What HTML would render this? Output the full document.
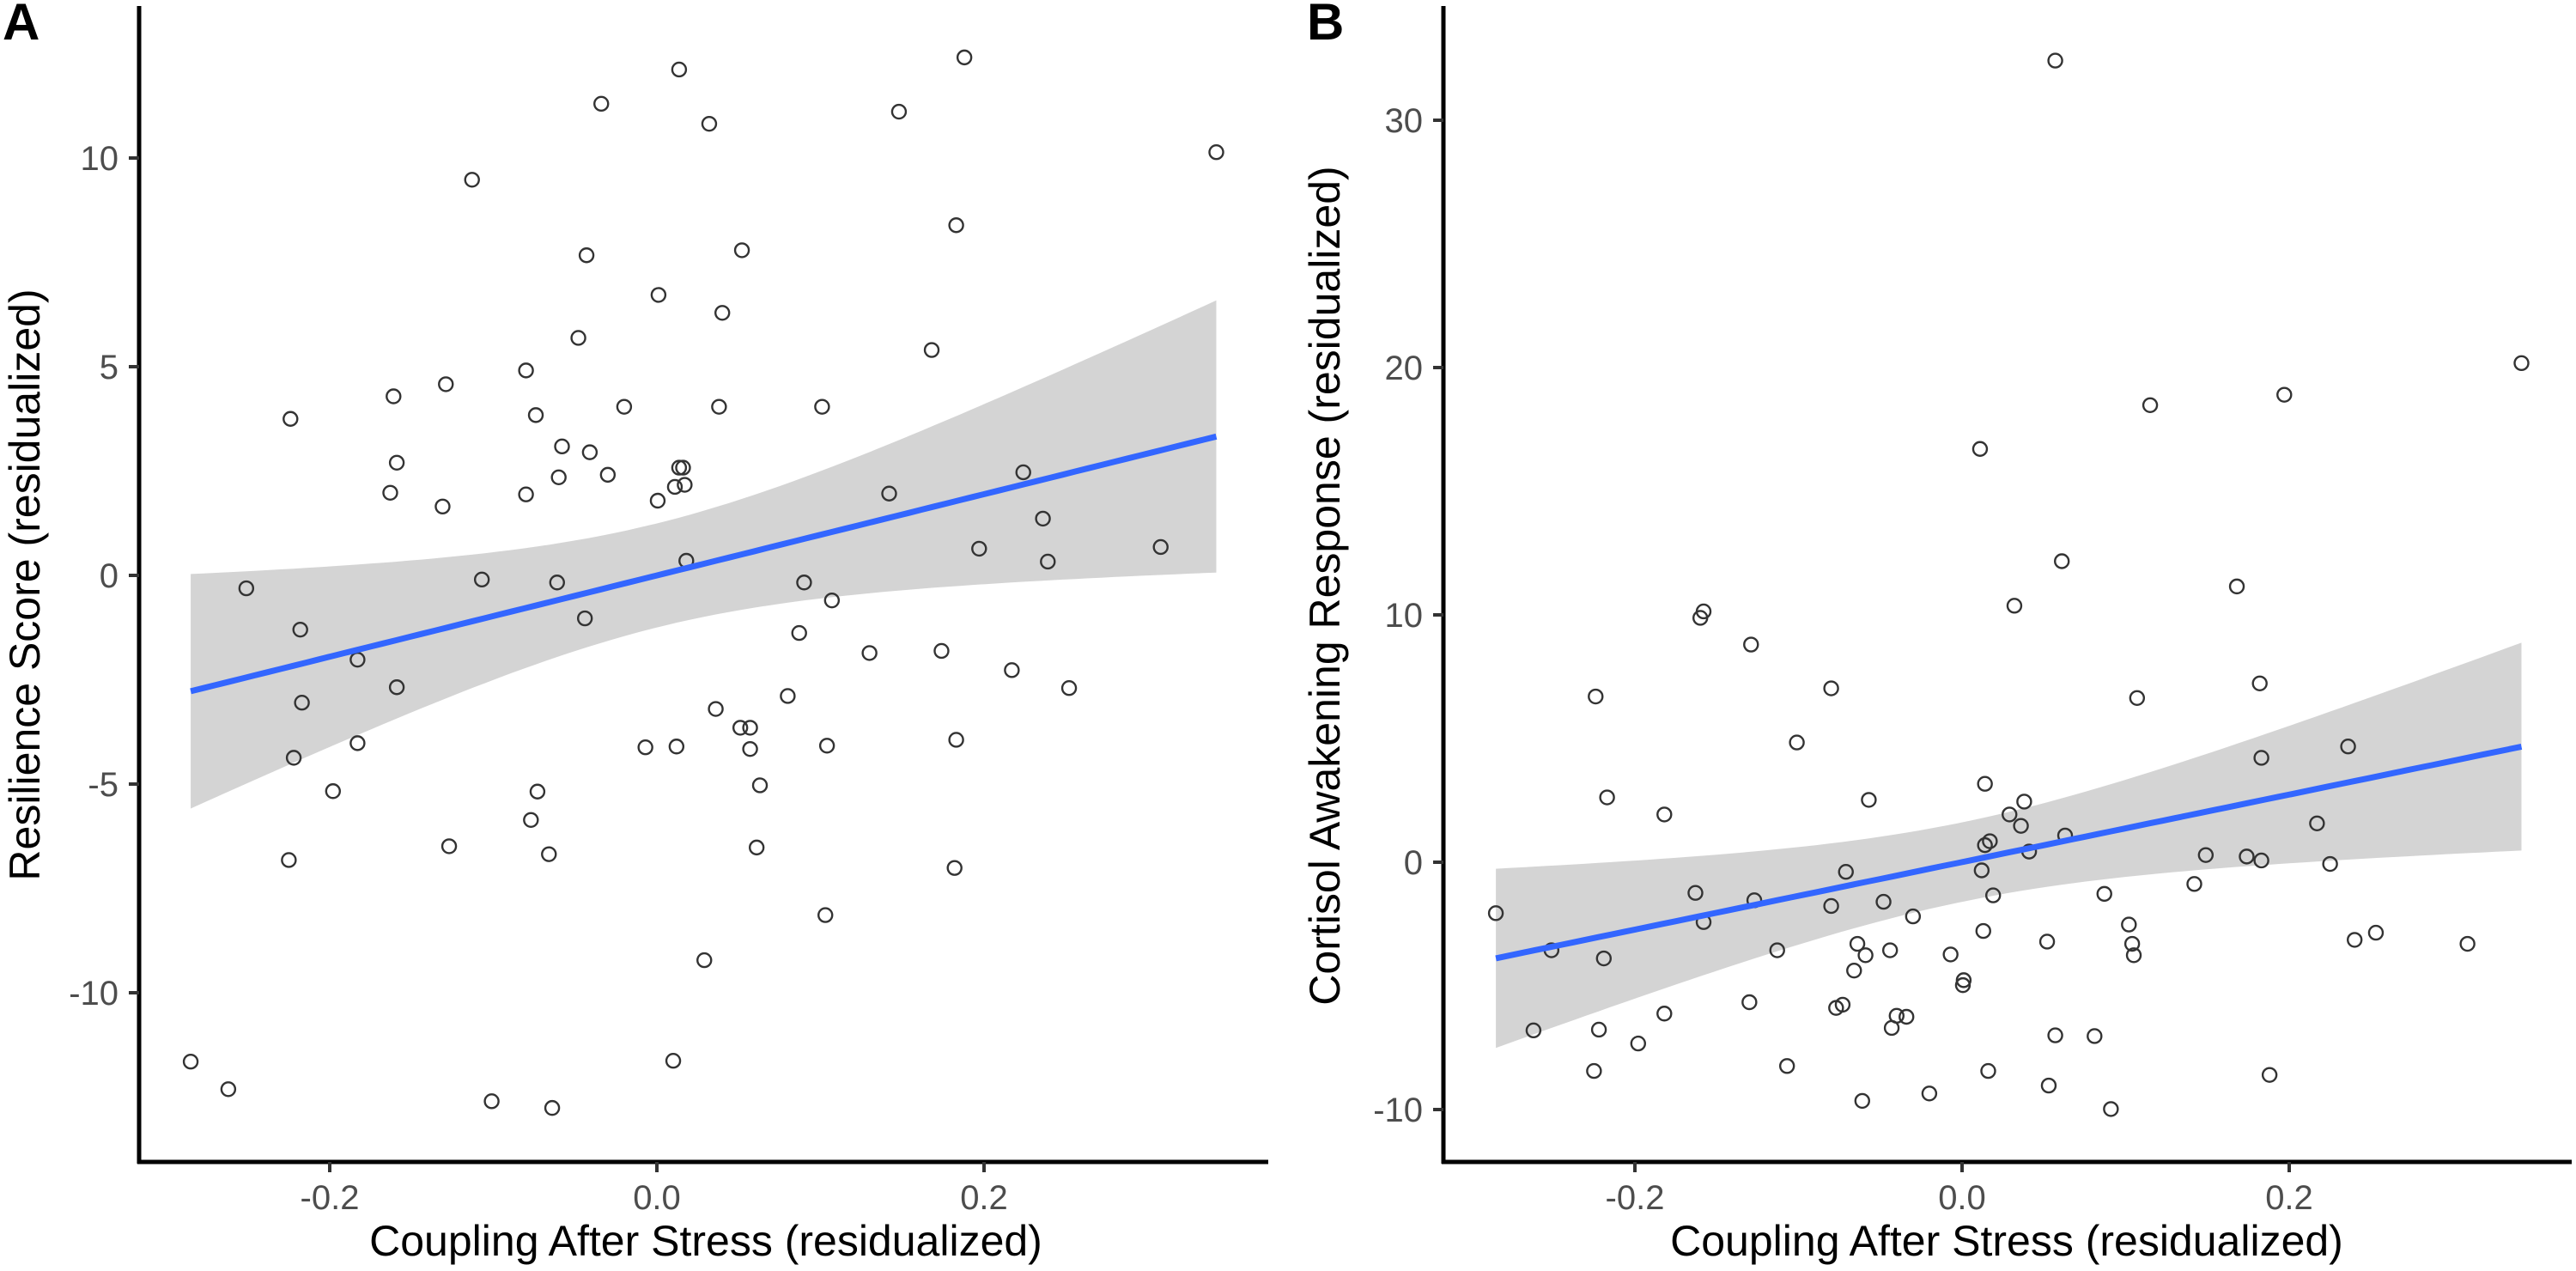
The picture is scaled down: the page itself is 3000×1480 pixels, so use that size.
<!DOCTYPE html>
<html><head><meta charset="utf-8"><style>
html,body{margin:0;padding:0;background:#fff;}
svg{display:block;font-family:"Liberation Sans",Arial,sans-serif;}
</style></head><body>
<svg id="chart" width="3000" height="1480" viewBox="0 0 3000 1480" xmlns="http://www.w3.org/2000/svg"></svg>
<script>
const xA = [0.0136,0.188,-0.034,0.148,0.032,0.342,-0.113,0.183,-0.043,0.052,0.001,0.040,-0.048,0.168,-0.080,-0.161,-0.129,-0.224,-0.074,-0.020,0.038,0.101,-0.058,-0.041,-0.159,-0.060,-0.030,0.0136,0.016,0.011,0.017,-0.163,-0.080,-0.131,0.0005,0.142,0.224,0.236,0.197,0.239,0.308,0.018,-0.251,-0.107,-0.061,0.090,0.107,-0.218,-0.044,0.087,0.174,0.130,-0.183,0.217,-0.159,0.252,-0.217,0.080,0.036,0.051,0.057,-0.222,-0.183,-0.007,0.012,0.057,0.104,0.183,-0.198,-0.073,0.063,-0.077,-0.225,-0.127,-0.066,0.061,0.182,0.103,0.029,-0.285,-0.262,-0.101,-0.064,0.010];
const yA = [12.12,12.41,11.30,11.11,10.82,10.14,9.48,8.39,7.67,7.79,6.72,6.29,5.69,5.40,4.91,4.29,4.58,3.75,3.84,4.04,4.04,4.04,3.09,2.95,2.70,2.35,2.41,2.58,2.58,2.12,2.17,1.98,1.94,1.65,1.79,1.96,2.47,1.36,0.64,0.33,0.68,0.35,-0.31,-0.10,-0.17,-0.17,-0.60,-1.30,-1.03,-1.38,-1.81,-1.86,-2.02,-2.27,-2.68,-2.70,-3.05,-2.89,-3.20,-3.65,-3.65,-4.37,-4.02,-4.12,-4.10,-4.16,-4.08,-3.94,-5.17,-5.18,-5.03,-5.86,-6.82,-6.49,-6.68,-6.52,-7.01,-8.14,-9.22,-11.65,-12.31,-12.60,-12.76,-11.63];
const xB = [0.057,0.342,0.197,0.115,0.011,0.061,0.168,0.032,-0.158,-0.160,-0.129,-0.080,0.182,-0.224,0.107,-0.101,0.236,0.183,0.014,-0.217,-0.057,0.038,-0.182,0.029,0.036,0.217,0.063,0.017,0.014,0.041,0.149,0.174,0.183,0.225,-0.071,0.012,0.142,-0.163,0.087,0.019,-0.127,-0.048,-0.080,-0.285,-0.030,-0.158,0.102,0.013,0.253,0.240,0.052,0.309,-0.064,0.104,-0.251,-0.113,-0.044,-0.059,-0.007,0.105,-0.219,-0.066,0.001,0.0005,-0.130,-0.073,-0.077,-0.182,-0.040,-0.034,-0.043,-0.262,-0.222,0.057,0.081,-0.198,-0.107,-0.225,0.016,0.188,0.053,-0.020,-0.061,0.091];
const yB = [32.41,20.18,18.90,18.48,16.71,12.17,11.15,10.37,10.14,9.88,8.80,7.03,7.23,6.70,6.64,4.84,4.68,4.22,3.17,2.62,2.52,2.45,1.93,1.93,1.47,1.57,1.08,0.85,0.69,0.43,0.29,0.23,0.07,-0.07,-0.39,-0.33,-0.88,-1.24,-1.28,-1.34,-1.54,-1.60,-1.77,-2.06,-2.19,-2.42,-2.52,-2.78,-2.85,-3.14,-3.21,-3.30,-3.30,-3.30,-3.56,-3.56,-3.56,-3.76,-3.73,-3.76,-3.89,-4.38,-4.77,-4.97,-5.66,-5.76,-5.89,-6.12,-6.21,-6.25,-6.70,-6.80,-6.77,-7.00,-7.03,-7.33,-8.24,-8.44,-8.44,-8.60,-9.03,-9.35,-9.65,-9.98];
const xTicks = [-0.2, 0.0, 0.2];
const xTickLabels = ["-0.2","0.0","0.2"];
const yTicksA = [10,5,0,-5,-10];
const yTicksB = [30,20,10,0,-10];

const NS = "http://www.w3.org/2000/svg";
const svg = document.getElementById('chart');
function mk(tag, attrs, parent){ const e=document.createElementNS(NS,tag); for(const k in attrs) e.setAttribute(k,attrs[k]); (parent||svg).appendChild(e); return e; }

function fit(xs, ys){
  const n=xs.length; let mx=0,my=0; for(let i=0;i<n;i++){mx+=xs[i];my+=ys[i];} mx/=n; my/=n;
  let sxx=0,sxy=0; for(let i=0;i<n;i++){sxx+=(xs[i]-mx)**2; sxy+=(xs[i]-mx)*(ys[i]-my);}
  const b=sxy/sxx, a=my-b*mx; let sse=0; for(let i=0;i<n;i++){sse+=(ys[i]-a-b*xs[i])**2;}
  const s=Math.sqrt(sse/(n-2));
  return {a,b,s,n,mx,sxx};
}

function panel(cfg){
  const g = mk('g',{});
  
  
  const X = v => cfg.x0 + v*cfg.sx;
  const Y = v => cfg.y0 - v*cfg.sy;
  const f = fit(cfg.xs, cfg.ys);
  const xmin = Math.min(...cfg.xs), xmax = Math.max(...cfg.xs);
  const N=80, t=1.989; const up=[], lo=[], ln=[];
  for(let i=0;i<=N;i++){
    const xv = xmin + (xmax-xmin)*i/N;
    const yh = f.a + f.b*xv;
    const se = f.s*Math.sqrt(1/f.n + (xv-f.mx)**2/f.sxx);
    up.push(X(xv).toFixed(1)+','+Y(yh+t*se).toFixed(1));
    lo.unshift(X(xv).toFixed(1)+','+Y(yh-t*se).toFixed(1));
    ln.push(X(xv).toFixed(1)+','+Y(yh).toFixed(1));
  }
  const band = mk('polygon',{points:up.concat(lo).join(' '),fill:'#d4d4d4'},g);
  
  
  const pts = mk('g',{},g);
  
  
  for(let i=0;i<cfg.xs.length;i++){
    const c = mk('circle',{cx:X(cfg.xs[i]),cy:Y(cfg.ys[i]),r:8,fill:'none',stroke:'#333','stroke-width':2.4},pts);
    
    
  }
  const fl = mk('polyline',{points:ln.join(' '),fill:'none',stroke:'#3366FF','stroke-width':7},g);
  
  
  // axes
  const ya = mk('line',{x1:cfg.left,y1:7,x2:cfg.left,y2:cfg.bottom+2,stroke:'#000','stroke-width':5},g);
  
  
  const xa = mk('line',{x1:cfg.left-2,y1:cfg.bottom,x2:cfg.right,y2:cfg.bottom,stroke:'#000','stroke-width':5},g);
  
  
  xTicks.forEach((v,i)=>{
    mk('line',{x1:X(v),y1:cfg.bottom,x2:X(v),y2:cfg.bottom+12,stroke:'#333','stroke-width':4},g);
    const tx = mk('text',{x:X(v),y:cfg.bottom+55,'text-anchor':'middle','font-size':40,fill:'#4d4d4d'},g);
    tx.textContent = xTickLabels[i];
    
    
  });
  cfg.yt.forEach(v=>{
    mk('line',{x1:cfg.left-12,y1:Y(v),x2:cfg.left,y2:Y(v),stroke:'#333','stroke-width':4},g);
    const tx = mk('text',{x:cfg.left-24,y:Y(v)+14,'text-anchor':'end','font-size':40,fill:'#4d4d4d'},g);
    tx.textContent = String(v);
    
    
  });
  const xt = mk('text',{x:cfg.xtx,y:1462,'text-anchor':'middle','font-size':50,fill:'#000'},g);
  xt.textContent = 'Coupling After Stress (residualized)';
  
  
  const yt = mk('text',{x:0,y:0,'text-anchor':'middle','font-size':50,fill:'#000',transform:`translate(${cfg.ytx},${cfg.yty}) rotate(-90)`},g);
  yt.textContent = cfg.ytitle;
  
  
  const lb = mk('text',{x:cfg.lx,y:46,'font-size':60,'font-weight':'bold',fill:'#000'},g);
  lb.textContent = cfg.label;
  
  
}

panel({name:'panel-a',xs:xA,ys:yA,yt:yTicksA,x0:765,sx:1905,y0:670,sy:48.6,left:162,right:1477,bottom:1353,
  xtx:822,ytx:46,yty:681,ytitle:'Resilience Score (residualized)',lx:3,label:'A'});
panel({name:'panel-b',xs:xB,ys:yB,yt:yTicksB,x0:2285,sx:1905,y0:1004,sy:28.8,left:1681,right:2995,bottom:1353,
  xtx:2337,ytx:1560,yty:682,ytitle:'Cortisol Awakening Response (residualized)',lx:1522,label:'B'});
</script>
</body></html>
